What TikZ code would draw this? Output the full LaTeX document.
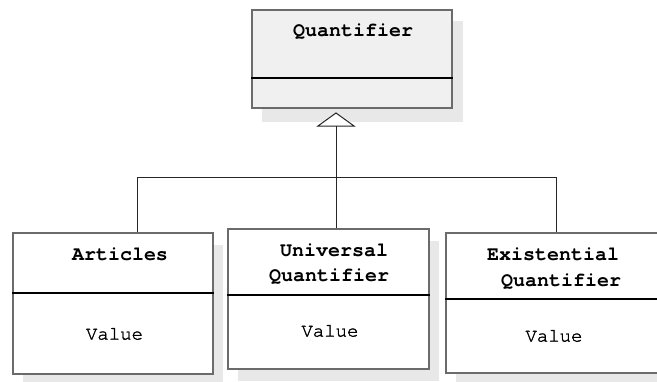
\documentclass[tikz,border=0pt]{standalone}
\usepackage{fontspec}
\newfontfamily\cour[Ligatures={NoCommon,NoRequired}]{TeX Gyre Cursor}
\newfontfamily\courv[Ligatures={NoCommon,NoRequired},FakeBold=1.5]{TeX Gyre Cursor}
\begin{document}
\begin{tikzpicture}[x=1pt,y=-1pt,
  shadowbox/.style={fill=black!9,draw=none},
  classbox/.style={fill=#1,draw=black!58,line width=2pt},
  divider/.style={draw=black,line width=2pt},
  conn/.style={draw=black!85,line width=1pt},
  ttl/.style={font=\cour\bfseries\fontsize{20}{22}\selectfont,inner sep=0pt,anchor=center},
  val/.style={font=\courv\fontsize{19}{21}\selectfont,inner sep=0pt,anchor=center}]
\useasboundingbox (0,0) rectangle (657,381);
\clip (0,0) rectangle (657,381);
\fill[white] (0,0) rectangle (657,381);
% shadows
\fill[shadowbox] (262,21) rectangle (463,122);
\fill[shadowbox] (23,245) rectangle (223,385);
\fill[shadowbox] (238,241) rectangle (439,381);
\fill[shadowbox] (456,245) rectangle (675,385);
% boxes
\node[classbox=black!6,minimum width=200pt,minimum height=98pt,inner sep=0pt] (q) at (352,59) {};
\node[classbox=white,minimum width=200pt,minimum height=141pt,inner sep=0pt] (art) at (113,303.5) {};
\node[classbox=white,minimum width=201pt,minimum height=140pt,inner sep=0pt] (uni) at (328.5,299) {};
\node[classbox=white,minimum width=219pt,minimum height=140pt,inner sep=0pt] (ex) at (555.5,303) {};
% dividers
\draw[divider] (q.west |- 0,78) -- (q.east |- 0,78);
\draw[divider] (art.west |- 0,293) -- (art.east |- 0,293);
\draw[divider] (uni.west |- 0,295) -- (uni.east |- 0,295);
\draw[divider] (ex.west |- 0,299) -- (ex.east |- 0,299);
% texts
\node[ttl] (tq) at (353,32) {Quantifier};
\node[ttl] (ta) at (120,254) {Articles};
\node[val] (va) at (114.5,334) {Value};
\node[ttl] (tu1) at (334,250) {Universal};
\node[ttl] (tu2) at (329,277) {Quantifier};
\node[val] (vu) at (330,331) {Value};
\node[ttl] (te1) at (553,254) {Existential};
\node[ttl] (te2) at (561,282) {Quantifier};
\node[val] (ve) at (554,336) {Value};
% generalization
\coordinate (apex) at (336,113);
\coordinate (tbase) at (336,126);
\coordinate (jl) at (137,177);
\coordinate (jr) at (556,177);
\draw[conn,fill=white,line join=miter] (apex) -- (354,126) -- (318,126) -- cycle;
\draw[conn] (tbase) -- (uni.north -| tbase);
\draw[conn] (jl) -- (jr);
\draw[conn] (jl) -- (art.north -| jl);
\draw[conn] (jr) -- (ex.north -| jr);
\end{tikzpicture}
\end{document}
